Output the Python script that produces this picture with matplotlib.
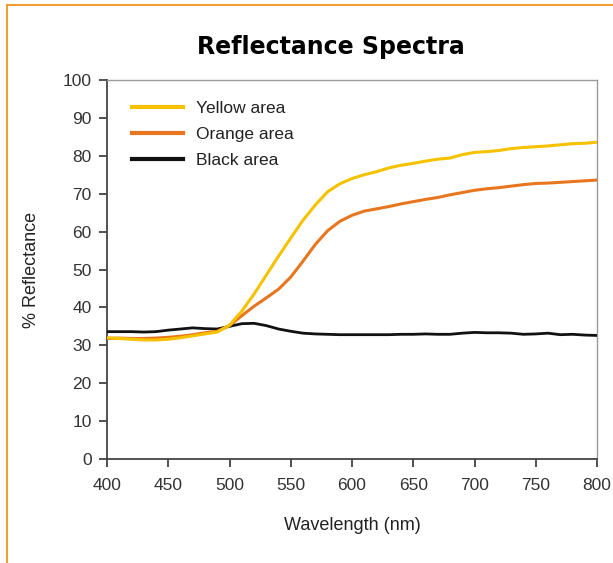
import matplotlib.pyplot as plt
from matplotlib.lines import Line2D

# data
wavelength = list(range(400, 801, 10))
yellow = [32.0, 31.8, 31.6, 31.4, 31.4, 31.6, 32.0, 32.5, 33.0, 33.5,
          35.3, 39.0, 43.5, 48.5, 53.5, 58.3, 63.0, 67.0, 70.5, 72.6,
          74.0, 75.0, 75.8, 76.8, 77.5, 78.0, 78.6, 79.1, 79.4, 80.3,
          80.9, 81.1, 81.4, 81.9, 82.2, 82.4, 82.6, 82.9, 83.2, 83.3, 83.6]
orange = [31.8, 31.9, 31.8, 31.8, 31.9, 32.1, 32.4, 32.8, 33.3, 33.7,
          35.2, 37.8, 40.3, 42.5, 44.8, 48.0, 52.2, 56.6, 60.2, 62.7,
          64.3, 65.4, 66.0, 66.6, 67.3, 67.9, 68.5, 69.0, 69.7, 70.3,
          70.9, 71.3, 71.6, 72.0, 72.4, 72.7, 72.8, 73.0, 73.2, 73.4, 73.6]
black = [33.6, 33.6, 33.6, 33.5, 33.6, 34.0, 34.3, 34.6, 34.4, 34.3,
         35.0, 35.7, 35.8, 35.2, 34.3, 33.7, 33.2, 33.0, 32.9, 32.8,
         32.8, 32.8, 32.8, 32.8, 32.9, 32.9, 33.0, 32.9, 32.9, 33.2,
         33.4, 33.3, 33.3, 33.2, 32.9, 33.0, 33.2, 32.8, 32.9, 32.7, 32.6]
labels = ['Yellow area', 'Orange area', 'Black area']
colors = ['#F5C200', '#E8761E', '#111111']

plt.rcParams['font.family'] = ['Liberation Sans', 'DejaVu Sans']

fig = plt.figure(figsize=(6.13, 5.63), dpi=100)
# orange frame (top and left edges)
fig.add_artist(Line2D([7/613, 1], [1-5/563, 1-5/563], color='#F0A030', lw=1.5))
fig.add_artist(Line2D([7/613, 7/613], [0, 1-5/563], color='#F0A030', lw=1.5))

ax = fig.add_axes([107/613, 1-459/563, 490/613, 379/563])
ax.plot(wavelength, black, color=colors[2], lw=2.0, zorder=3)
ax.plot(wavelength, orange, color=colors[1], lw=2.2, zorder=4)
ax.plot(wavelength, yellow, color=colors[0], lw=2.2, zorder=5)

ax.set_xlim(400, 800)
ax.set_ylim(0, 100)
ax.set_xticks(range(400, 801, 50))
ax.set_yticks(range(0, 101, 10))
ax.tick_params(direction='out', length=6, width=1.2, color='#333333',
               labelsize=12.5, labelcolor='#333333')
ax.tick_params(axis='x', pad=8)
ax.tick_params(axis='y', pad=5)
for s in ['left', 'bottom']:
    ax.spines[s].set_color('#444444')
    ax.spines[s].set_linewidth(1.3)
for s in ['top', 'right']:
    ax.spines[s].set_color('#9a9a9a')
    ax.spines[s].set_linewidth(1.0)

ax.set_xlabel('Wavelength (nm)', fontsize=13, color='#222222', labelpad=17)
ax.set_ylabel('% Reflectance', fontsize=13, color='#222222', labelpad=16)
fig.text(0.54, 1-47/563, 'Reflectance Spectra', ha='center', va='center',
         fontsize=17, fontweight='bold', family=['DejaVu Sans'])

handles = [Line2D([], [], color=c, lw=3) for c in colors]
ax.legend(handles, labels, loc='upper left', bbox_to_anchor=(0.02, 0.985),
          frameon=False, fontsize=12.5, handlelength=2.9, handletextpad=0.75,
          labelspacing=0.6, labelcolor='#222222')

fig.savefig('out.png', dpi=100)
